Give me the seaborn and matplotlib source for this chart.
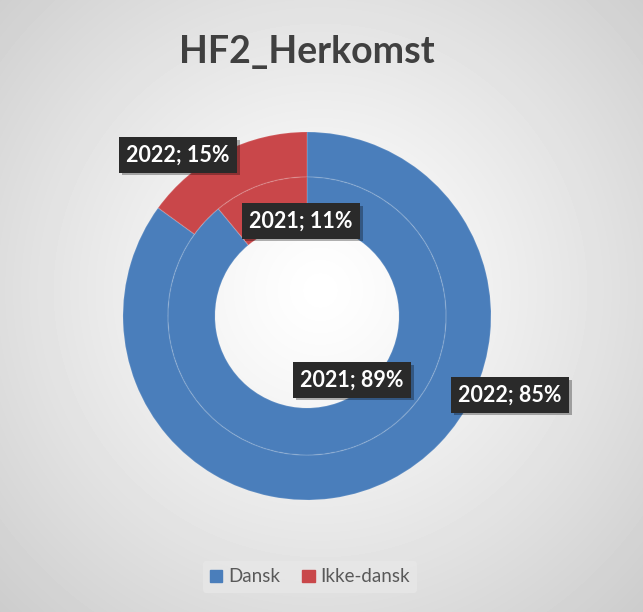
import matplotlib
matplotlib.use("Agg")
import matplotlib.pyplot as plt
import matplotlib.patheffects as pe
import seaborn as sns
import numpy as np

# data
categories = ["Dansk", "Ikke-dansk"]
years = ["2021", "2022"]
share_2021 = [89, 11]
share_2022 = [85, 15]

sns.set_theme(style="white")
plt.rcParams['font.family'] = ['Lato', 'DejaVu Sans']

colors = ["#4a7ebb", "#c9474a"]

W, H = 643, 612
fig = plt.figure(figsize=(W / 100, H / 100), dpi=100)
ax = fig.add_axes([0, 0, 1, 1])

# radial grey background
yy, xx = np.mgrid[0:H, 0:W]
d = np.sqrt((xx - 320) ** 2 + (yy - 290) ** 2)
d = d / d.max()
bg = 1.0 - 0.2 * d ** 1.2
ax.imshow(bg, cmap="gray", vmin=0, vmax=1, extent=(0, W, 0, H), origin="upper", zorder=0)

cx, cy = 307, H - 316
R = 184

# outer ring = 2022, inner ring = 2021
ax.pie(share_2022, colors=colors, radius=R, center=(cx, cy), startangle=90,
       counterclock=False, frame=True,
       wedgeprops=dict(width=45, edgecolor=(1, 1, 1, 0.12), linewidth=1))
ax.pie(share_2021, colors=colors, radius=R - 45, center=(cx, cy), startangle=90,
       counterclock=False, frame=True,
       wedgeprops=dict(width=47, edgecolor=(1, 1, 1, 0.12), linewidth=1))

ax.set_xlim(0, W)
ax.set_ylim(0, H)
ax.set_aspect("equal")
ax.axis("off")

# data labels (image pixel positions)
labels = [f"{years[1]}; {share_2022[1]}%", f"{years[0]}; {share_2021[1]}%",
          f"{years[0]}; {share_2021[0]}%", f"{years[1]}; {share_2022[0]}%"]
label_pos = [(178, 155), (301, 221), (352, 380), (510, 395)]
for txt, (px, py) in zip(labels, label_pos):
    t = ax.text(px, H - py, txt, ha="center", va="center", color="white",
                fontsize=15.5, fontweight="bold", zorder=5,
                bbox=dict(boxstyle="square,pad=0.33", facecolor="#2a2a2a", edgecolor="none"))
    t.get_bbox_patch().set_path_effects([
        pe.withSimplePatchShadow(offset=(2, -2), shadow_rgbFace="black", alpha=0.3)])

ax.text(307, H - 52, "HF2_Herkomst", ha="center", va="center",
        fontsize=27, fontweight="bold", color="#404040")

handles = [plt.Rectangle((0, 0), 1, 1, color=c) for c in colors]
leg = ax.legend(handles, categories, loc="center", bbox_to_anchor=(310 / W, 1 - 577 / H),
                ncol=2, frameon=True, fontsize=13.5, handlelength=0.65, handleheight=0.65,
                handletextpad=0.3, columnspacing=1.2, borderpad=0.4)
leg.get_frame().set_facecolor("#e8e8e8")
leg.get_frame().set_edgecolor("none")
leg.get_frame().set_alpha(0.7)
for t in leg.get_texts():
    t.set_color("#595959")

fig.savefig("out.png", dpi=100)
